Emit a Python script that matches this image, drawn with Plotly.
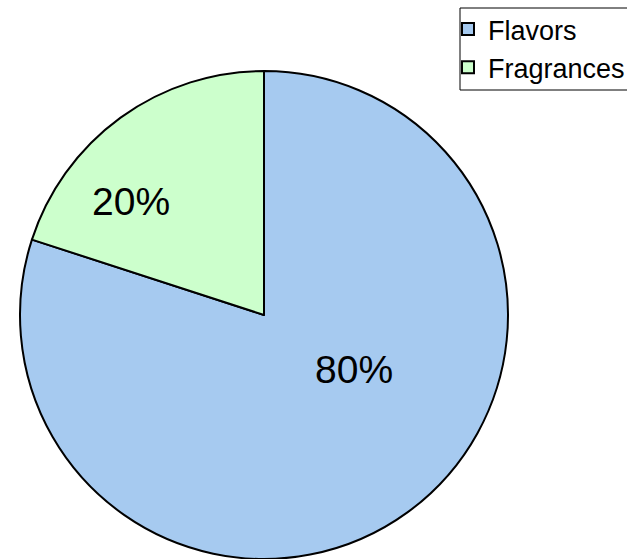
import plotly.graph_objects as go

categories = ["Flavors", "Fragrances"]
values = [80, 20]
colors = ["#A6CAF0", "#CCFFCC"]

# label anchor points (paper fractions) for the percentage texts
label_pos = [(354 / 627, 1 - 369 / 559), (131 / 627, 1 - 202 / 559)]

total = sum(values)

fig = go.Figure(go.Pie(
    labels=categories,
    values=values,
    sort=False,
    direction="clockwise",
    rotation=0,
    marker=dict(colors=colors, line=dict(color="black", width=2)),
    textinfo="none",
    domain=dict(x=[19/627, 509/627], y=[0, 1 - 71/559]),
    hoverinfo="skip",
))

for v, (px, py) in zip(values, label_pos):
    fig.add_annotation(
        x=px, y=py, xref="paper", yref="paper",
        text=f"{round(100 * v / total)}%",
        showarrow=False, xanchor="center", yanchor="middle",
        font=dict(family="Liberation Sans, Arial", size=39, color="black"),
    )

# legend frame
fig.add_shape(type="rect", xref="paper", yref="paper",
              x0=460/627, x1=1.01, y0=1 - 90/559, y1=1 - 8/559,
              line=dict(color="black", width=1), fillcolor="white", layer="below")

fig.update_layout(
    width=627, height=559,
    margin=dict(l=0, r=0, t=0, b=0, autoexpand=False),
    paper_bgcolor="white",
    plot_bgcolor="white",
    font=dict(family="Liberation Sans, Arial", color="black"),
    showlegend=True,
    legend=dict(
        x=448/627, y=1 - 5/559, xanchor="left", yanchor="top",
        borderwidth=0,
        font=dict(size=27, family="Liberation Sans, Arial", color="black"),
        bgcolor="rgba(0,0,0,0)",
        itemsizing="constant",
    ),
)

fig.write_html("out.html")
